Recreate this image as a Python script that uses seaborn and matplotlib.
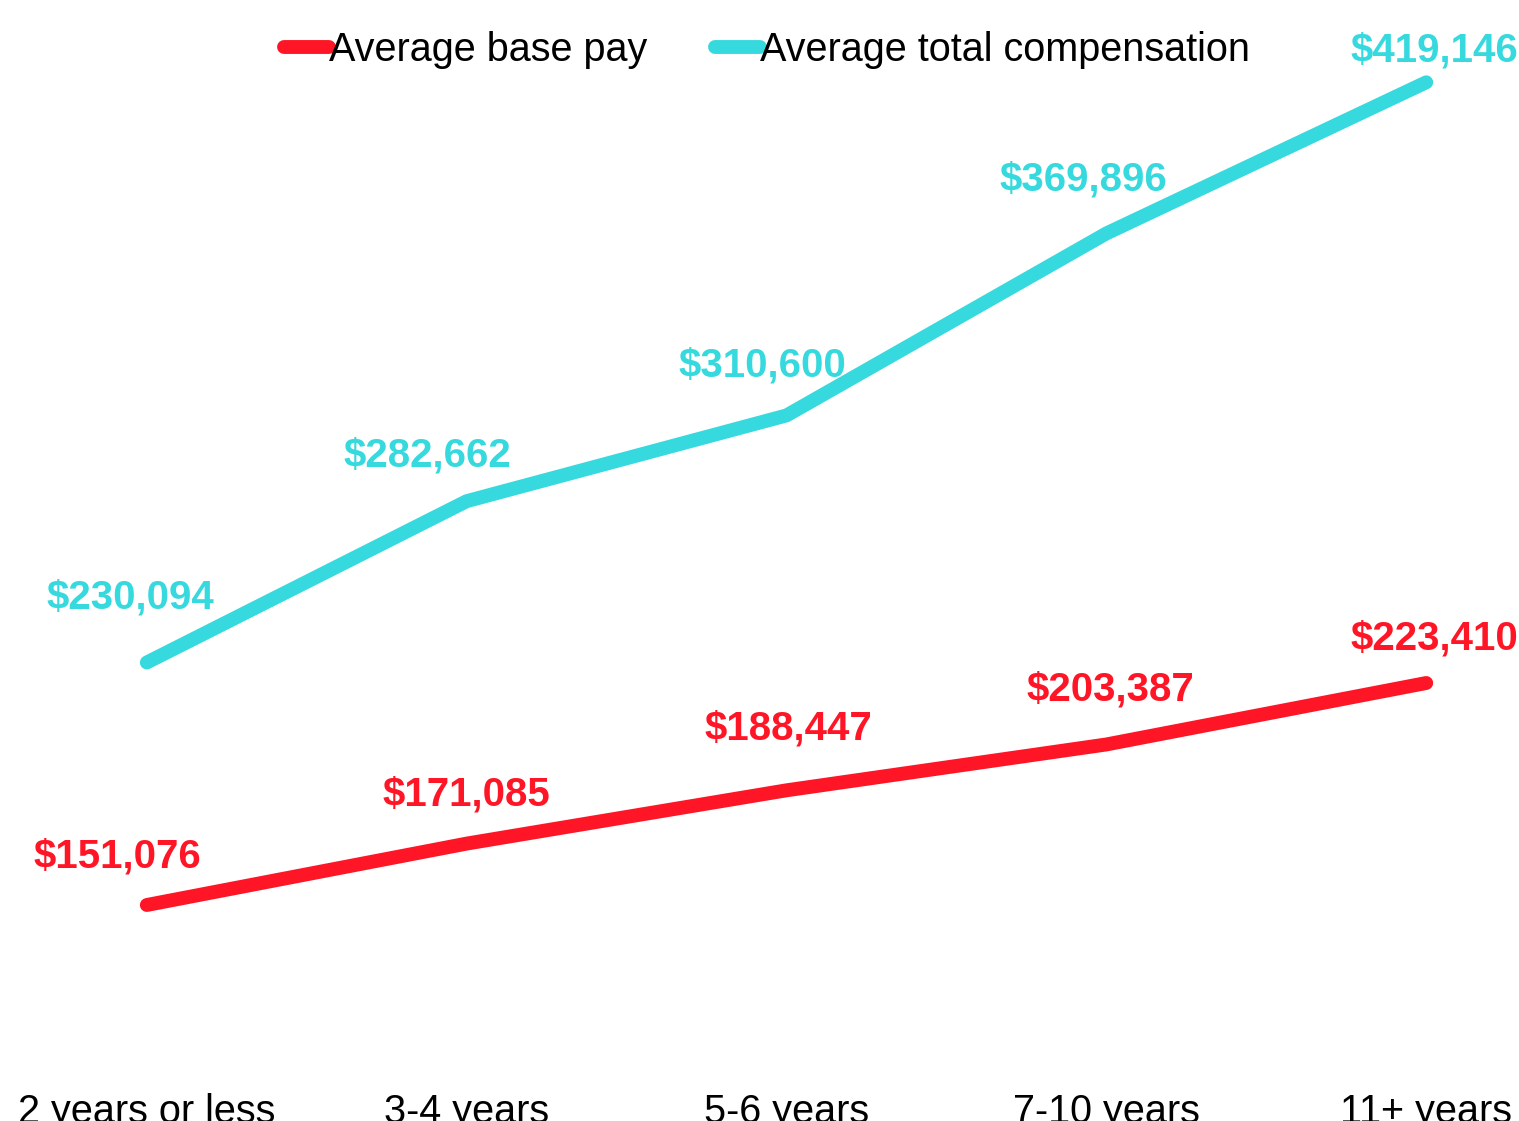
import pandas as pd
import seaborn as sns
import matplotlib.pyplot as plt

# Data
experience = ["2 years or less", "3-4 years", "5-6 years", "7-10 years", "11+ years"]
base_pay = [151076, 171085, 188447, 203387, 223410]
total_comp = [230094, 282662, 310600, 369896, 419146]

series_names = ["Average base pay", "Average total compensation"]
colors = ["#FF1626", "#36D9DD"]

# label offsets (pixels) relative to each point
base_offsets = [(-29, 48), (0, 49), (2, 62), (4, 55), (8, 45)]
total_offsets = [(-16, 65), (-39, 46), (-24, 50), (-23, 54), (8, 32)]

df = pd.DataFrame({
    "Experience": experience * 2,
    "Salary": base_pay + total_comp,
    "Series": [series_names[0]] * 5 + [series_names[1]] * 5,
})

sns.set_style("white")
plt.rcParams["font.family"] = ["Liberation Sans", "DejaVu Sans"]
plt.rcParams["text.color"] = "black"
plt.rcParams["xtick.color"] = "black"
plt.rcParams["xtick.labelcolor"] = "black"

fig = plt.figure(figsize=(15.19, 11.21), dpi=100)
ax = fig.add_axes([0, 61 / 1121, 1, 1 - 61 / 1121])

sns.lineplot(data=df, x="Experience", y="Salary", hue="Series", palette=colors,
             sort=False, linewidth=10, solid_capstyle="round", ax=ax, legend=False)

ax.set_xlim(-0.459, 4.29)
ax.set_ylim(100571, 445960)
ax.set_xlabel("")
ax.set_ylabel("")
ax.set_yticks([])
ax.tick_params(axis="x", length=0, pad=24, labelsize=28.5)
for s in ax.spines.values():
    s.set_visible(False)

for vals, offs, c in [(base_pay, base_offsets, colors[0]), (total_comp, total_offsets, colors[1])]:
    for i, (v, off) in enumerate(zip(vals, offs)):
        ax.annotate(f"${v:,}", (i, v), xytext=off, textcoords="offset pixels",
                    ha="center", va="center", color=c, fontsize=29,
                    fontweight="bold", annotation_clip=False)

handles = [plt.Line2D([], [], color=c, linewidth=10, solid_capstyle="round") for c in colors]
fig.legend(handles, series_names, loc="center", bbox_to_anchor=(0.505, 1 - 50 / 1121),
           ncol=2, frameon=False, fontsize=28.5, handlelength=1.15, handletextpad=0.0,
           columnspacing=1.7, labelcolor="black")

fig.savefig("out.png", dpi=100)
